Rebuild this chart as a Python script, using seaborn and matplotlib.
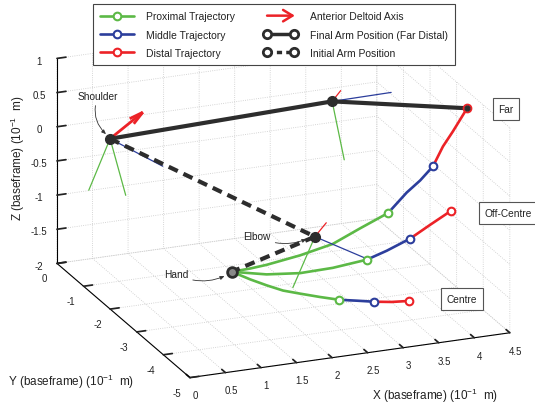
import numpy as np
import matplotlib
matplotlib.use("Agg")
import matplotlib.pyplot as plt
import seaborn as sns
from matplotlib.lines import Line2D
from matplotlib.legend_handler import HandlerLine2D, HandlerBase
from matplotlib.patches import FancyArrowPatch

# ---------------- data (units: 10^-1 m, baseframe) ----------------
x_ticks = [0, 0.5, 1, 1.5, 2, 2.5, 3, 3.5, 4, 4.5]
x_ticklabels = ["0", "0.5", "1", "1.5", "2", "2.5", "3", "3.5", "4", "4.5"]
y_ticks = [-5, -4, -3, -2, -1, 0]
y_ticklabels = ["-5", "-4", "-3", "-2", "-1", "0"]
z_ticks = [-2, -1.5, -1, -0.5, 0, 0.5, 1]
z_ticklabels = ["-2", "-1.5", "-1", "-0.5", "0", "0.5", "1"]

# arm: shoulder, elbow, hand
initial_arm_x = [0.56, 2.88, 1.15]
initial_arm_y = [-0.5, -2.0, -3.5]
initial_arm_z = [-0.09, -1.36, -1.12]
final_arm_x = [0.56, 3.31, 4.46]
final_arm_y = [-0.5, -1.5, -3.5]
final_arm_z = [-0.09, 0.39, 0.79]

# hand trajectories (all in plane y = -3.5)
traj_y = -3.5
far_prox_x = [1.15, 1.41, 1.64, 2.11, 2.57, 2.95, 3.35]
far_prox_z = [-1.12, -1.11, -1.09, -1.02, -0.92, -0.75, -0.58]
far_mid_x = [3.35, 3.61, 3.80, 3.98]
far_mid_z = [-0.58, -0.32, -0.17, 0.01]
far_dist_x = [3.98, 4.12, 4.26, 4.37, 4.46]
far_dist_z = [0.01, 0.28, 0.48, 0.65, 0.79]

off_prox_x = [1.15, 1.64, 2.11, 2.57, 3.05]
off_prox_z = [-1.12, -1.23, -1.28, -1.27, -1.22]
off_mid_x = [3.05, 3.33, 3.66]
off_mid_z = [-1.22, -1.13, -1.00]
off_dist_x = [3.66, 3.94, 4.23]
off_dist_z = [-1.00, -0.84, -0.68]

cen_prox_x = [1.15, 1.41, 1.64, 1.87, 2.11, 2.39, 2.66]
cen_prox_z = [-1.12, -1.27, -1.39, -1.50, -1.58, -1.67, -1.75]
cen_mid_x = [2.66, 2.91, 3.15]
cen_mid_z = [-1.75, -1.80, -1.85]
cen_dist_x = [3.15, 3.40, 3.64]
cen_dist_z = [-1.85, -1.89, -1.91]

# local frame axes at the joints (0 shoulder, 1 final elbow, 2 initial elbow)
joint_x = [0.56, 3.31, 2.88]
joint_y = [-0.5, -1.5, -2.0]
joint_z = [-0.09, 0.39, -1.36]
green_axis_joint = [0, 0, 1, 2]
green_axis_end_x = [0.26, 0.78, 3.48, 2.57]
green_axis_end_z = [-0.80, -0.95, -0.49, -2.06]
blue_axis_joint = [0, 0, 1, 2]
blue_axis_end_x = [1.30, 1.30, 4.14, 3.61]
blue_axis_end_z = [-0.60, -0.06, 0.40, -1.79]
red_axis_joint = [1, 2]
red_axis_end_x = [3.43, 3.04]
red_axis_end_z = [0.53, -1.18]
# anterior deltoid axis (arrow from the shoulder)
deltoid_dx, deltoid_dy, deltoid_dz = 0.46, 0.0, 0.32

legend_labels = ["Proximal Trajectory", "Middle Trajectory", "Distal Trajectory",
                 "Anterior Deltoid Axis", "Final Arm Position (Far Distal)",
                 "Initial Arm Position"]
target_labels = ["Far", "Off-Centre", "Centre"]

# ---------------- style ----------------
sns.set_theme(style="white")
plt.rcParams["font.family"] = ["Liberation Sans", "DejaVu Sans"]
plt.rcParams["mathtext.default"] = "regular"
plt.rcParams["axes.unicode_minus"] = False
plt.rcParams["grid.color"] = "#c8c8c8"
plt.rcParams["grid.linestyle"] = ":"
plt.rcParams["grid.linewidth"] = 0.6

green = "#5cb946"
blue = "#2c3e9c"
red = "#ec2227"
dark = "#2d2d2d"

W, H = 535, 406
fig = plt.figure(figsize=(W / 100, H / 100), dpi=100)
fig.patch.set_facecolor("white")


def fxy(px, py):
    """reference pixel (from top-left) -> figure fraction"""
    return (px / W, 1 - py / H)


S = 600.0
cx, cy = 283.4, 196.6
left = cx - 0.5135 * S
bottom = H - cy - 0.5135 * S
ax = fig.add_axes([left / W, bottom / H, S / W, S / H], projection="3d",
                  computed_zorder=False)
ax.set_proj_type("ortho")
ax.view_init(elev=20.3, azim=-112)
ax.set_xlim(0, 4.5)
ax.set_ylim(-5, 0)
ax.set_zlim(-2, 1)
ax.set_box_aspect((345, 355, 218.6), zoom=525.3 / S)
ax.patch.set_alpha(0)

for axis in (ax.xaxis, ax.yaxis, ax.zaxis):
    axis.set_pane_color((1, 1, 1, 0))
    axis.line.set_color("black")
    axis.line.set_linewidth(0.8)
    axis._axinfo["tick"]["inward_factor"] = 0.0
    axis._axinfo["tick"]["outward_factor"] = 0.35

ax.set_xticks(x_ticks)
ax.set_xticklabels(x_ticklabels)
ax.set_yticks(y_ticks)
ax.set_yticklabels(y_ticklabels)
ax.set_zticks(z_ticks)
ax.set_zticklabels(z_ticklabels)
ax.tick_params(axis="both", labelsize=7, colors="#222222", pad=1)
ax.tick_params(axis="z", labelsize=7, colors="#222222", pad=1)
ax.set_xlabel("")
ax.set_ylabel("")
ax.set_zlabel("")

# ---------------- trajectories ----------------
trajectories = [
    [(far_prox_x, far_prox_z), (far_mid_x, far_mid_z), (far_dist_x, far_dist_z)],
    [(off_prox_x, off_prox_z), (off_mid_x, off_mid_z), (off_dist_x, off_dist_z)],
    [(cen_prox_x, cen_prox_z), (cen_mid_x, cen_mid_z), (cen_dist_x, cen_dist_z)],
]
seg_colors = [green, blue, red]
for segs in trajectories:
    for (sx, sz), col in zip(segs, seg_colors):
        sy = [traj_y] * len(sx)
        ax.plot(sx, sy, sz, color=col, lw=1.9, zorder=2, solid_capstyle="round")
        ax.plot([sx[-1]], [traj_y], [sz[-1]], ls="none", marker="o", ms=5.5,
                mfc="white", mec=col, mew=1.5, zorder=6)

# ---------------- joint frame axes ----------------
for j, ex, ez in zip(green_axis_joint, green_axis_end_x, green_axis_end_z):
    ax.plot([joint_x[j], ex], [joint_y[j], joint_y[j]], [joint_z[j], ez],
            color=green, lw=0.9, zorder=3)
for j, ex, ez in zip(blue_axis_joint, blue_axis_end_x, blue_axis_end_z):
    ax.plot([joint_x[j], ex], [joint_y[j], joint_y[j]], [joint_z[j], ez],
            color=blue, lw=0.9, zorder=3)
for j, ex, ez in zip(red_axis_joint, red_axis_end_x, red_axis_end_z):
    ax.plot([joint_x[j], ex], [joint_y[j], joint_y[j]], [joint_z[j], ez],
            color=red, lw=0.9, zorder=3)
ax.quiver(joint_x[0], joint_y[0], joint_z[0], deltoid_dx, deltoid_dy, deltoid_dz,
          color=red, lw=2.0, arrow_length_ratio=0.35, zorder=5)

# ---------------- arm positions ----------------
ax.plot(final_arm_x, final_arm_y, final_arm_z, color=dark, lw=3.0, zorder=4,
        solid_capstyle="round")
ax.plot(initial_arm_x, initial_arm_y, initial_arm_z, color=dark, lw=3.0, zorder=4,
        ls=(0, (2.4, 1.5)))
ax.plot(joint_x, joint_y, joint_z, ls="none", marker="o", ms=7, mfc=dark, mec=dark,
        zorder=5)
ax.plot([initial_arm_x[2]], [initial_arm_y[2]], [initial_arm_z[2]], ls="none",
        marker="o", ms=7, mfc="#888888", mec=dark, mew=2, zorder=5)
ax.plot([final_arm_x[2]], [final_arm_y[2]], [final_arm_z[2]], ls="none",
        marker="o", ms=3.5, mfc=dark, mec=dark, zorder=7)

# ---------------- axis labels ----------------
lab_fs = 8.5
fig.text(*fxy(435, 396), "X (baseframe) (10$^{-1}$  m)", ha="center",
         va="center", fontsize=lab_fs, color="#222222")
fig.text(*fxy(71, 382), "Y (baseframe) (10$^{-1}$  m)", ha="center",
         va="center", fontsize=lab_fs, color="#222222")
fig.text(*fxy(18, 158), "Z (baseframe) (10$^{-1}$  m)", ha="center",
         va="center", rotation=90, fontsize=lab_fs, color="#222222")

# ---------------- annotations ----------------
arrow_kw = dict(arrowstyle="-|>,head_length=0.35,head_width=0.15", lw=0.6,
                color="#333333", shrinkA=1, shrinkB=2)
ann = [("Shoulder", (98, 97), (108, 137), "arc3,rad=0.35"),
       ("Elbow", (257, 237), (309, 239), "arc3,rad=0.25"),
       ("Hand", (176, 275), (227, 276), "arc3,rad=0.25")]
for txt, (tx, ty), (px, py), cs in ann:
    ax.annotate(txt, xy=fxy(px, py), xytext=fxy(tx, ty), xycoords="figure fraction",
                textcoords="figure fraction", ha="center", va="center",
                fontsize=7.3, color="#222222",
                arrowprops=dict(connectionstyle=cs, **arrow_kw))

box_kw = dict(boxstyle="square,pad=0.55", fc="white", ec="#555555", lw=0.8)
for txt, (tx, ty) in zip(target_labels, [(506, 110), (508, 214), (462, 300)]):
    fig.text(*fxy(tx, ty), txt, ha="center", va="center", fontsize=7.3,
             color="#222222", bbox=box_kw)


# ---------------- legend ----------------
class RightMarkerHandler(HandlerLine2D):
    def get_xdata(self, legend, xdescent, ydescent, width, height, fontsize):
        xdata = np.array([-xdescent, -xdescent + width])
        return xdata, np.array([-xdescent + width - 2.0])


class ArrowHandler(HandlerBase):
    def create_artists(self, legend, orig_handle, xdescent, ydescent, width,
                       height, fontsize, trans):
        y = (height - ydescent) / 2.0
        arr = FancyArrowPatch((-xdescent, y), (-xdescent + width, y),
                              arrowstyle="->,head_length=0.9,head_width=0.55",
                              mutation_scale=fontsize, color=red, lw=1.8,
                              transform=trans)
        return [arr]


h_prox = Line2D([], [], color=green, lw=1.9, marker="o", ms=5.5, mfc="white",
                mec=green, mew=1.5)
h_mid = Line2D([], [], color=blue, lw=1.9, marker="o", ms=5.5, mfc="white",
               mec=blue, mew=1.5)
h_dist = Line2D([], [], color=red, lw=1.9, marker="o", ms=5.5, mfc="white",
                mec=red, mew=1.5)
h_arrow = Line2D([], [], color=red)
h_final = Line2D([], [], color=dark, lw=2.5, marker="o", ms=6, mfc="white",
                 mec=dark, mew=2)
h_init = Line2D([], [], color=dark, lw=2.5, ls=(0, (1.5, 1.2)), marker="o", ms=6,
                mfc="white", mec=dark, mew=2)
hmap = {h_prox: RightMarkerHandler(), h_mid: RightMarkerHandler(),
        h_dist: RightMarkerHandler(), h_arrow: ArrowHandler(),
        h_final: HandlerLine2D(numpoints=2), h_init: HandlerLine2D(numpoints=2)}
leg = fig.legend([h_prox, h_mid, h_dist, h_arrow, h_final, h_init], legend_labels,
                 ncol=2, loc="upper left", bbox_to_anchor=fxy(93, 5),
                 frameon=True, fancybox=False, edgecolor="#444444", framealpha=1,
                 fontsize=7.5, handlelength=3.2, handletextpad=1.2,
                 columnspacing=2.8, labelspacing=0.8, borderpad=0.7,
                 borderaxespad=0, handler_map=hmap)
leg.get_frame().set_linewidth(0.8)
for t in leg.get_texts():
    t.set_color("#222222")

fig.savefig("out.png", dpi=100, facecolor="white")
